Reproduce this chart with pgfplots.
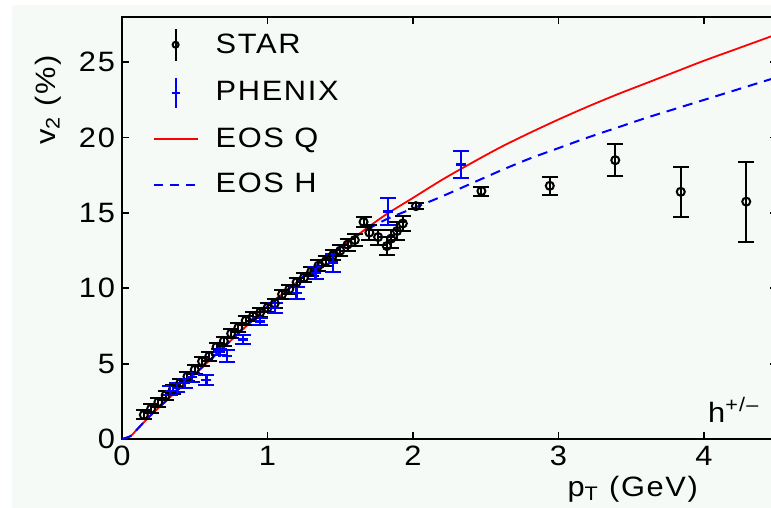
\documentclass[border=0pt]{standalone}
\usepackage{fontspec}
\setmainfont{Liberation Sans}[FakeStretch=1.1, LetterSpace=6]
\usepackage{pgfplots}
\usepackage{pgfplotstable}
\pgfplotsset{compat=1.18}
\definecolor{bg}{RGB}{246,250,247}

\pgfplotstableread{
x y e
0.15 1.6 0.3
0.20 2.0 0.3
0.25 2.45 0.3
0.30 2.9 0.3
0.35 3.3 0.3
0.40 3.7 0.3
0.45 4.15 0.3
0.50 4.6 0.3
0.55 5.15 0.3
0.60 5.5 0.3
0.65 6.1 0.3
0.70 6.5 0.3
0.75 7.0 0.3
0.80 7.4 0.3
0.85 7.85 0.3
0.90 8.15 0.3
0.95 8.4 0.3
1.00 8.7 0.3
1.05 9.0 0.3
1.10 9.6 0.3
1.15 9.95 0.3
1.20 10.4 0.3
1.25 10.7 0.3
1.30 11.1 0.3
1.35 11.5 0.35
1.40 11.8 0.35
1.45 12.2 0.35
1.50 12.5 0.35
1.55 12.9 0.4
1.60 13.2 0.4
1.66 14.4 0.35
1.70 13.7 0.5
1.76 13.4 0.5
1.82 12.8 0.6
1.85 13.3 0.6
1.89 13.8 0.6
1.93 14.3 0.5
2.02 15.45 0.2
2.47 16.45 0.3
2.94 16.8 0.6
3.39 18.5 1.05
3.84 16.4 1.65
4.29 15.75 2.65
}\tabSTAR

\pgfplotstableread{
x y e
0.33 3.2 0.3
0.38 3.4 0.3
0.43 3.7 0.3
0.48 4.1 0.3
0.58 3.9 0.35
0.67 5.8 0.2
0.72 5.5 0.4
0.83 6.6 0.3
0.95 7.8 0.25
1.05 8.7 0.35
1.20 9.7 0.4
1.33 11.0 0.4
1.45 11.7 0.6
1.83 15.1 0.9
2.33 18.2 0.9
}\tabPHENIX

\pgfplotstableread{
x y
0 0
0.06 0.2
0.1 0.6
0.2 1.6
0.3 2.5
0.4 3.4
0.5 4.3
0.6 5.2
0.7 6.1
0.8 7.0
0.9 7.9
1.0 8.8
1.2 10.4
1.4 12.0
1.6 13.4
1.8 14.8
2.0 16.0
2.2 17.2
2.4 18.3
2.6 19.35
2.8 20.3
3.0 21.2
3.2 22.05
3.4 22.85
3.6 23.6
3.8 24.35
4.0 25.1
4.2 25.8
4.4 26.5
4.5 26.85
}\tabEOSQ

\pgfplotstableread{
x y
0 0
0.06 0.2
0.1 0.6
0.2 1.6
0.3 2.5
0.4 3.4
0.5 4.3
0.6 5.2
0.7 6.1
0.8 7.0
0.9 7.9
1.0 8.8
1.2 10.4
1.4 12.0
1.6 13.4
1.8 14.5
2.0 15.3
2.2 16.1
2.4 16.95
2.6 17.8
2.8 18.6
3.0 19.3
3.2 20.0
3.4 20.65
3.6 21.3
3.8 21.9
4.0 22.5
4.2 23.1
4.4 23.7
4.5 24.0
}\tabEOSH

\begin{document}
\begin{tikzpicture}
\fill[bg] (-55pt,-40pt) rectangle (330pt,217pt);
\begin{axis}[
  at={(0,0)}, anchor=south west,
  scale only axis, width=327.4pt, height=211pt,
  xmin=0, xmax=4.5, ymin=0, ymax=28,
  clip=false,
  xtick={0,1,2,3,4}, ytick={0,5,10,15,20,25},
  tick align=inside, major tick length=3.5pt,
  axis line style={line width=0.9pt},
  every tick/.style={black, line width=0.9pt},
  /pgf/number format/assume math mode=true,
  tick label style={font=\fontsize{14}{16}\selectfont},
  legend cell align=left,
  legend style={draw=none, fill=none, at={(0.037,0.985)}, anchor=north west,
    font=\fontsize{14}{16}\selectfont, row sep=7.5pt,
    nodes={inner xsep=8.5pt}},
]
\addlegendimage{legend image code/.code={
  \path (0pt,0pt) (22pt,0pt);
  \draw[black, line width=1pt] (11pt,-8pt) -- (11pt,8pt);
  \draw[black, line width=1pt] (11pt,0pt) circle (1.5pt);}}
\addlegendentry{STAR}
\addlegendimage{legend image code/.code={
  \path (0pt,0pt) (22pt,0pt);
  \draw[blue, line width=1pt] (11pt,-7.5pt) -- (11pt,7.5pt);
  \draw[blue, line width=1pt] (9pt,0pt) -- (13pt,0pt);}}
\addlegendentry{PHENIX}
\addlegendimage{legend image code/.code={
  \draw[red, line width=0.9pt] (0pt,0pt) -- (22pt,0pt);}}
\addlegendentry{EOS Q}
\addlegendimage{legend image code/.code={
  \draw[blue, line width=1pt, dash pattern=on 4.5pt off 3.5pt] (0pt,0pt) -- (22pt,0pt);}}
\addlegendentry{EOS H}

\addplot[red, line width=0.9pt, smooth, forget plot] table[x=x,y=y] {\tabEOSQ};
\addplot[blue, line width=1pt, smooth, dash pattern=on 5pt off 3.5pt, forget plot] table[x=x,y=y] {\tabEOSH};

\addplot[black, only marks, mark=o, mark size=2pt, mark options={line width=1pt}, forget plot,
  error bars/.cd, y dir=both, y explicit, error mark=|,
  error bar style={line width=1pt, black},
  error mark options={line width=1pt, mark size=4pt, black}]
  table[x=x, y=y, y error=e] {\tabSTAR};

\addplot[blue, only marks, mark=+, mark size=2.5pt, mark options={line width=1.2pt}, forget plot,
  error bars/.cd, y dir=both, y explicit, error mark=|,
  error bar style={line width=1pt, blue},
  error mark options={line width=1pt, mark size=4pt, blue}]
  table[x=x, y=y, y error=e] {\tabPHENIX};

\node[anchor=base west, font=\fontsize{14}{16}\selectfont] at (axis cs:3.98,1.1) {h\textsuperscript{+/–}};
\node[yshift=-25pt, anchor=center, font=\fontsize{14}{16}\selectfont] at (axis cs:3.51,0) {p\textsubscript{T} (GeV)};
\node[xshift=-37pt, rotate=90, anchor=center, font=\fontsize{14}{16}\selectfont] at (axis cs:0,22.5) {v\textsubscript{2} (\%)};
\end{axis}
\pgfresetboundingbox
\path[use as bounding box] (-61pt,-34.5pt) rectangle (324.5pt,219.5pt);
\end{tikzpicture}
\end{document}
